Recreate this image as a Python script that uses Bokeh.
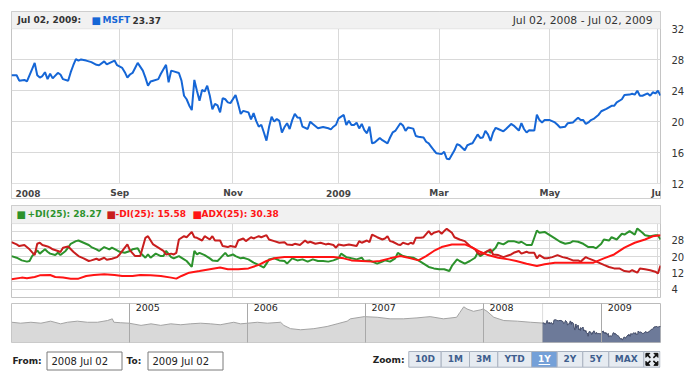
import pandas as pd
from bokeh.plotting import figure
from bokeh.layouts import column
from bokeh.models import Range1d, FixedTicker, BoxAnnotation, Label
from bokeh.core.properties import value
from bokeh.embed import file_html
from bokeh.resources import INLINE

# ---------------- data ----------------
HOLIDAYS = ["2008-07-04", "2008-09-01", "2008-11-27", "2008-12-25", "2009-01-01",
            "2009-01-19", "2009-02-16", "2009-04-10", "2009-05-25"]
cal = pd.bdate_range("2008-07-02", "2009-07-02")
cal = cal[~cal.isin(pd.to_datetime(HOLIDAYS))]
N = len(cal)

tick_months = ["2008-09", "2008-11", "2009-01", "2009-03", "2009-05", "2009-07"]
tick_labels = ["Sep", "Nov", "2009", "Mar", "May", "Jul"]
first_label = "2008"

# MSFT close, by trading-day index
price_day = [0, 2, 3, 5, 6, 8, 9, 10, 11, 12, 13, 14, 15, 16, 17, 18, 19, 20, 22, 23,
             24, 25, 26, 27, 29, 31, 33, 34, 36, 37, 40, 41, 43, 44, 45, 46, 47, 48, 49, 51,
             52, 53, 54, 55, 57, 58, 60, 61, 62, 63, 65, 66, 67, 68, 69, 70, 71, 72, 73, 74,
             75, 76, 77, 78, 79, 80, 81, 82, 83, 84, 85, 87, 88, 89, 90, 91, 92, 93, 94, 95,
             96, 97, 98, 99, 100, 101, 102, 103, 104, 105, 106, 107, 108, 109, 110, 111, 112, 113, 115, 116,
             117, 119, 121, 123, 124, 125, 126, 127, 129, 130, 131, 132, 133, 134, 135, 136, 137, 138, 139, 140,
             141, 142, 143, 144, 146, 147, 148, 149, 151, 152, 153, 154, 156, 157, 158, 160, 161, 162, 163, 164,
             165, 167, 168, 169, 170, 172, 173, 174, 176, 177, 178, 179, 181, 182, 183, 184, 185, 186, 187, 188,
             189, 191, 192, 194, 195, 197, 198, 199, 200, 201, 203, 204, 205, 206, 207, 209, 211, 212, 213, 215,
             216, 218, 219, 220, 221, 222, 223, 224, 225, 226, 228, 229, 231, 233, 234, 235, 237, 238, 240, 241,
             242, 243, 244, 245, 247, 248, 249, 250, 251, 252]
price = [26.0, 26.0, 25.3, 25.4, 25.2, 26.8, 27.6, 26.0, 25.7, 25.9, 26.4, 25.5, 26.2, 25.6, 25.95, 26.3, 26.1, 25.5, 25.3, 26.4,
         27.3, 28.1, 27.9, 28.05, 27.9, 27.7, 27.35, 27.3, 27.8, 27.4, 27.9, 27.3, 26.95, 26.4, 25.7, 26.1, 26.3, 26.95, 27.6, 26.6,
         25.7, 24.65, 25.2, 25.3, 25.5, 26.2, 27.35, 25.1, 26.6, 26.5, 26.3, 25.3, 23.35, 22.9, 22.1, 21.5, 25.4, 24.0, 22.7, 24.1,
         23.9, 24.65, 23.35, 21.6, 22.3, 22.1, 21.2, 23.05, 22.9, 22.5, 22.4, 23.45, 22.3, 21.0, 21.4, 21.3, 21.2, 20.3, 21.1, 20.1,
         19.35, 19.6, 18.6, 17.55, 19.3, 20.65, 20.0, 20.35, 20.1, 18.6, 19.3, 19.8, 19.05, 20.2, 21.0, 20.55, 20.5, 19.35, 19.05, 20.0,
         19.7, 19.15, 19.3, 19.15, 19.0, 19.35, 19.6, 20.43, 20.87, 19.57, 20.13, 19.57, 19.57, 19.87, 19.13, 19.7, 18.9, 18.5, 19.35, 17.2,
         17.3, 17.6, 17.9, 17.6, 17.2, 17.95, 18.6, 18.8, 19.8, 19.5, 18.8, 19.25, 19.1, 18.15, 18.05, 17.95, 17.4, 17.2, 16.75, 16.3,
         15.9, 15.8, 16.1, 15.2, 15.15, 16.3, 17.1, 16.95, 16.3, 16.95, 17.1, 17.2, 18.35, 17.9, 17.95, 18.8, 18.35, 17.5, 18.6, 19.2,
         19.05, 18.75, 19.05, 19.7, 19.5, 18.85, 19.8, 19.05, 18.6, 18.9, 18.85, 20.9, 20.2, 19.9, 20.2, 20.2, 19.9, 19.6, 19.25, 19.35,
         19.8, 19.9, 20.2, 20.5, 20.2, 20.2, 19.7, 19.9, 20.2, 20.35, 20.9, 21.35, 21.65, 22.05, 22.05, 22.5, 22.9, 23.45, 23.5, 23.6,
         23.5, 24.0, 23.35, 23.35, 23.65, 23.35, 23.8, 23.65, 24.0, 23.37]

# +DI(25)
pdi_day = [0, 2, 4, 6, 7, 8, 10, 11, 13, 14, 15, 17, 18, 19, 21, 22, 23, 25, 26, 28,
           30, 31, 33, 34, 36, 38, 39, 41, 42, 44, 46, 47, 49, 50, 52, 53, 54, 56, 58, 59,
           60, 62, 63, 65, 67, 68, 70, 71, 72, 73, 75, 77, 78, 80, 81, 83, 84, 86, 87, 89,
           90, 92, 94, 96, 98, 99, 100, 102, 104, 106, 107, 109, 111, 113, 115, 117, 119, 121, 123, 125,
           127, 128, 130, 132, 134, 136, 137, 139, 141, 142, 144, 145, 147, 149, 150, 152, 154, 156, 158, 160,
           162, 164, 166, 168, 170, 171, 173, 174, 176, 178, 180, 181, 182, 183, 185, 186, 188, 189, 191, 193,
           195, 197, 198, 200, 202, 204, 205, 207, 209, 211, 213, 215, 217, 218, 220, 222, 224, 226, 227, 229,
           230, 232, 233, 235, 237, 238, 240, 242, 243, 245, 246, 248, 250, 251, 252]
pdi = [20.2, 19.4, 18.1, 17.5, 17.8, 20.2, 23.0, 21.4, 23.5, 22.3, 21.4, 20.7, 21.8, 20.7, 22.7, 24.3, 26.2, 27.5, 27.8, 26.7,
       25.6, 24.6, 23.5, 22.7, 24.6, 23.5, 24.3, 23.0, 22.3, 21.8, 22.7, 23.5, 24.0, 21.8, 19.4, 21.0, 19.4, 21.4, 20.2, 20.2,
       22.7, 19.7, 19.1, 20.2, 18.6, 17.8, 14.9, 22.7, 21.0, 21.8, 20.7, 19.1, 18.1, 17.8, 19.1, 21.8, 20.2, 21.0, 20.2, 19.1,
       19.4, 18.6, 17.0, 15.9, 14.6, 16.5, 18.6, 19.1, 18.1, 17.8, 16.5, 19.1, 18.1, 18.6, 17.5, 18.6, 17.8, 17.8, 17.5, 18.1,
       19.1, 21.4, 19.7, 19.1, 18.6, 19.4, 17.8, 18.1, 17.0, 16.5, 17.5, 18.1, 17.5, 19.1, 21.8, 20.2, 19.7, 19.4, 18.1, 16.5,
       14.9, 14.2, 13.8, 13.8, 12.9, 15.4, 18.6, 17.8, 16.5, 17.8, 19.4, 21.8, 20.2, 21.0, 22.7, 21.8, 24.3, 26.7, 25.9, 27.5,
       27.5, 26.7, 27.2, 25.6, 25.6, 32.7, 31.6, 32.0, 30.4, 28.8, 27.2, 26.2, 26.7, 27.5, 27.2, 26.2, 24.6, 24.6, 24.0, 26.2,
       28.3, 27.8, 29.4, 28.3, 31.1, 30.7, 32.4, 30.7, 33.7, 31.6, 30.4, 29.9, 30.4, 30.4, 28.27]

# -DI(25)
mdi_day = [0, 2, 3, 5, 7, 9, 10, 11, 12, 14, 15, 16, 18, 19, 20, 22, 24, 26, 28, 30,
           31, 33, 34, 36, 37, 39, 41, 42, 44, 45, 46, 48, 50, 52, 53, 55, 57, 59, 60, 62,
           63, 64, 65, 67, 68, 70, 71, 72, 74, 75, 77, 78, 79, 81, 82, 84, 85, 87, 88, 90,
           91, 93, 94, 96, 97, 99, 100, 102, 104, 106, 107, 109, 110, 112, 114, 115, 116, 118, 120, 122,
           123, 125, 126, 127, 129, 131, 134, 135, 136, 138, 139, 140, 142, 144, 145, 146, 147, 148, 150, 151,
           152, 154, 155, 156, 157, 159, 160, 162, 163, 164, 166, 167, 168, 169, 171, 172, 174, 176, 178, 180,
           181, 182, 183, 186, 187, 189, 191, 194, 195, 197, 198, 200, 201, 203, 204, 205, 207, 208, 210, 212,
           214, 216, 218, 220, 221, 223, 224, 226, 228, 230, 232, 234, 236, 238, 240, 241, 243, 244, 246, 248,
           250, 251, 252]
mdi = [27.0, 25.9, 25.1, 25.6, 23.5, 20.7, 26.2, 26.7, 25.6, 24.9, 24.3, 23.5, 22.7, 22.2, 24.3, 24.9, 22.3, 20.2, 19.1, 17.8,
       18.1, 18.9, 18.3, 19.4, 18.4, 18.9, 19.7, 21.0, 24.3, 25.9, 23.0, 20.2, 20.2, 29.1, 29.9, 25.9, 24.3, 22.7, 21.0, 21.4,
       21.0, 21.8, 28.3, 29.9, 29.4, 32.0, 29.4, 29.1, 27.8, 29.9, 28.3, 29.9, 27.8, 27.8, 25.1, 24.6, 25.1, 24.6, 27.8, 28.8,
       27.5, 29.4, 28.8, 29.9, 29.4, 30.4, 28.3, 27.5, 26.7, 27.0, 25.9, 25.6, 26.2, 25.6, 27.8, 26.7, 27.2, 26.2, 26.7, 25.9,
       26.2, 25.6, 24.3, 25.9, 25.4, 25.9, 25.1, 27.5, 26.7, 27.8, 27.0, 30.7, 29.4, 28.3, 28.8, 29.9, 27.5, 27.2, 25.9, 25.6,
       26.7, 25.9, 26.7, 26.2, 29.1, 29.1, 29.4, 32.4, 30.7, 31.6, 32.4, 31.1, 32.4, 33.5, 31.6, 29.4, 28.3, 27.5, 25.1, 23.5,
       21.8, 21.0, 21.4, 23.5, 21.0, 20.7, 19.7, 21.0, 21.8, 22.7, 21.4, 22.3, 21.8, 21.8, 19.1, 20.7, 19.1, 19.1, 19.7, 20.7,
       19.7, 19.1, 18.1, 18.1, 17.5, 19.7, 19.1, 18.1, 17.0, 15.9, 14.9, 14.2, 14.2, 12.9, 12.6, 13.3, 12.1, 14.2, 13.8, 13.3,
       12.6, 11.7, 15.58]

# ADX(25)
adx_day = [0, 4, 6, 9, 11, 15, 17, 20, 23, 26, 29, 32, 36, 40, 43, 47, 50, 54, 58, 62,
           64, 66, 69, 73, 77, 81, 84, 88, 92, 96, 99, 102, 106, 110, 115, 120, 125, 129, 132, 136,
           140, 143, 147, 151, 155, 158, 161, 164, 167, 171, 173, 176, 179, 182, 185, 189, 193, 196, 200, 204,
           207, 211, 215, 218, 222, 226, 230, 234, 238, 242, 246, 249, 252]
adx = [8.9, 9.7, 9.4, 10.0, 10.8, 11.0, 10.0, 9.7, 9.2, 9.2, 10.5, 11.0, 11.3, 11.0, 10.5, 10.5, 11.0, 10.8, 10.5, 9.7,
       9.2, 10.5, 12.1, 12.9, 13.8, 14.6, 13.8, 13.8, 14.2, 15.9, 17.8, 19.1, 19.7, 19.7, 19.7, 19.7, 19.7, 19.1, 18.1, 17.8,
       17.5, 17.8, 19.1, 20.2, 19.1, 18.1, 20.2, 22.7, 24.6, 25.9, 25.9, 25.9, 24.3, 22.3, 20.7, 19.4, 18.6, 17.8, 16.5, 15.4,
       16.2, 17.0, 17.0, 17.0, 17.0, 17.0, 19.1, 21.0, 24.3, 26.7, 28.3, 29.9, 30.38]

# long history shown in the scroller (before the selected year)
hist_date = ["2004-01-02", "2004-01-29", "2004-03-01", "2004-04-01", "2004-05-01", "2004-06-01", "2004-06-22",
             "2004-07-23", "2004-08-23", "2004-09-23", "2004-10-24", "2004-11-08", "2004-11-13", "2004-12-04",
             "2004-12-30", "2005-02-05", "2005-03-08", "2005-04-07", "2005-05-08", "2005-06-08", "2005-07-08",
             "2005-08-08", "2005-09-08", "2005-10-08", "2005-11-19", "2005-12-10", "2006-01-01", "2006-01-31",
             "2006-03-03", "2006-04-13", "2006-04-23", "2006-05-14", "2006-06-14", "2006-07-25", "2006-09-04",
             "2006-10-05", "2006-11-05", "2006-11-15", "2006-12-28", "2007-02-06", "2007-03-18", "2007-04-28",
             "2007-06-09", "2007-07-20", "2007-08-30", "2007-10-10", "2007-10-20", "2007-11-01", "2007-11-11",
             "2007-12-01", "2007-12-22", "2007-12-31", "2008-01-12", "2008-02-02", "2008-03-04", "2008-04-15",
             "2008-05-26"]
hist_close = [26.5, 25.9, 26.5, 25.9, 27.2, 25.5, 26.5, 27.2, 26.5, 26.5, 27.6, 28.7, 26.5, 26.2,
              25.9, 24.5, 25.5, 24.5, 25.5, 24.9, 25.5, 25.9, 25.5, 24.9, 26.5, 25.5, 25.9, 26.5,
              25.9, 26.5, 24.5, 22.4, 21.7, 22.4, 23.8, 25.5, 27.2, 28.7, 30.1, 29.7, 28.7, 28.7,
              29.3, 30.1, 28.7, 29.7, 32.8, 36.4, 35.0, 33.5, 34.4, 35.0, 33.5, 29.7, 27.6, 27.2,
              26.5]
scroll_years = [2005, 2006, 2007, 2008, 2009]

zoom_labels = ["10D", "1M", "3M", "YTD", "1Y", "2Y", "5Y", "MAX"]
zoom_selected = "1Y"

# ---------------- style ----------------
W = 688
LEFT, RIGHT = 11, 28
BORDER = "#c4c4c4"
GRID = "#d9d9d9"
TXT = "#333333"
SANS = "DejaVu Sans"
BLUE = "#1566d6"
GREEN = "#2c922c"
DRED = "#c81e1e"
RED = "#ff1414"
HDR_FILL = "#f1f1f1"
BSIZE = "9px"

month_idx = [int((cal >= pd.Timestamp(m + "-01")).argmax()) for m in tick_months]
last_date = cal[-1].strftime("%b %d, %Y")
first_date = cal[0].strftime("%b %d, %Y")


def style(fig):
    fig.outline_line_color = BORDER
    fig.background_fill_color = "white"
    fig.border_fill_color = "white"


def hdr_label(fig, x, y, off, text, color, size=BSIZE, style_="bold", align="left"):
    fig.add_layout(Label(x=x, y=y, x_offset=off, text=text, text_color=color,
                         text_font=SANS, text_font_style=style_, text_font_size=size,
                         text_baseline="middle", text_align=align))


def y_axis(fig, ticks):
    ax = fig.yaxis[0]
    ax.ticker = FixedTicker(ticks=ticks)
    ax.axis_line_color = None
    ax.major_tick_line_color = None
    ax.minor_tick_line_color = None
    ax.major_label_standoff = 5
    ax.major_label_text_font = SANS
    ax.major_label_text_font_size = "10px"
    ax.major_label_text_color = TXT


# ---------------- main price panel ----------------
PY0, PY1 = 10.06, 34.25
FRAME_H = 187
p = figure(width=W, height=200, x_range=Range1d(0, N - 1), y_range=Range1d(PY0, PY1),
           x_axis_location=None, y_axis_location="right", output_backend="svg",
           toolbar_location=None, min_border_left=LEFT, min_border_right=RIGHT,
           min_border_top=11, min_border_bottom=2)
style(p)
p.grid.grid_line_color = GRID
p.xgrid.ticker = FixedTicker(ticks=month_idx)
y_axis(p, [12, 16, 20, 24, 28, 32])

# x-axis strip (labels sit in a bordered strip under the plot, as in the original)
p.add_layout(BoxAnnotation(top=12, fill_color="white", fill_alpha=1, line_color=BORDER, level="underlay"))
lab_y = 12 - 9.5 * (PY1 - PY0) / FRAME_H
p.text(x=month_idx, y=[lab_y] * len(month_idx), text=tick_labels, text_font=value(SANS),
       text_font_style="bold", text_font_size=BSIZE, text_color="#444444",
       text_align="center", text_baseline="middle")
p.text(x=[0], y=[lab_y], text=[first_label], x_offset=4, text_font=value(SANS),
       text_font_style="bold", text_font_size=BSIZE, text_color="#444444",
       text_align="left", text_baseline="middle")

p.line(price_day, price, line_color=BLUE, line_width=2)
p.add_layout(BoxAnnotation(bottom=32, fill_color=HDR_FILL, fill_alpha=1, line_color=BORDER))

hy = 33.15
hdr_label(p, 0, hy, 6, last_date + ":", TXT)
hdr_label(p, 0, hy, 80, "\u25a0", BLUE, size="10px", style_="normal")
hdr_label(p, 0, hy, 91, "MSFT", BLUE)
hdr_label(p, 0, hy, 121, f"{price[-1]:.2f}", TXT)
hdr_label(p, N - 1, hy, -8, f"{first_date} - {last_date}", TXT, size="10.8px",
          style_="normal", align="right")

# ---------------- DMI panel ----------------
q = figure(width=W, height=99, x_range=p.x_range, y_range=Range1d(0, 44.88),
           x_axis_location=None, y_axis_location="right", output_backend="svg",
           toolbar_location=None, min_border_left=LEFT, min_border_right=RIGHT,
           min_border_top=5, min_border_bottom=2)
style(q)
q.grid.grid_line_color = GRID
q.xgrid.ticker = FixedTicker(ticks=month_idx)
q.ygrid.ticker = FixedTicker(ticks=list(range(0, 37, 4)))
y_axis(q, [4, 12, 20, 28])

q.line(pdi_day, pdi, line_color=GREEN, line_width=2)
q.line(mdi_day, mdi, line_color=DRED, line_width=2)
q.line(adx_day, adx, line_color=RED, line_width=2)
q.add_layout(BoxAnnotation(bottom=36, fill_color=HDR_FILL, fill_alpha=1, line_color=BORDER))
hy2 = 40.5
hdr_label(q, 0, hy2, 5, "\u25a0", GREEN, size="10px", style_="normal")
hdr_label(q, 0, hy2, 16, f"+DI(25): {pdi[-1]:.2f}", GREEN)
hdr_label(q, 0, hy2, 95, "\u25a0", DRED, size="10px", style_="normal")
hdr_label(q, 0, hy2, 104, f"-DI(25): {mdi[-1]:.2f}", RED)
hdr_label(q, 0, hy2, 181, "\u25a0", RED, size="10px", style_="normal")
hdr_label(q, 0, hy2, 190, f"ADX(25): {adx[-1]:.2f}", RED)

# ---------------- scroller ----------------
SY0, SY1 = 13.55, 38.5
sel_dates = [cal[d] for d in price_day]
all_dates = list(pd.to_datetime(hist_date)) + sel_dates
all_vals = hist_close + price
s = figure(width=W, height=46, x_axis_type="datetime",
           x_range=Range1d(pd.Timestamp("2004-01-01"), cal[-1]), y_range=Range1d(SY0, SY1),
           x_axis_location=None, y_axis_location=None, output_backend="svg",
           toolbar_location=None, min_border_left=LEFT, min_border_right=RIGHT,
           min_border_top=4, min_border_bottom=3)
style(s)
s.ygrid.grid_line_color = None
year_ms = [pd.Timestamp(f"{y}-01-01").timestamp() * 1000 for y in scroll_years]
s.xgrid.ticker = FixedTicker(ticks=year_ms)
s.xgrid.grid_line_color = "#a9a9a9"
s.xgrid.level = "overlay"
s.varea(x=all_dates, y1=SY0, y2=all_vals, fill_color="#d9d9d9")
s.line(all_dates, all_vals, line_color="#a3a3a3", line_width=1)
s.varea(x=sel_dates, y1=SY0, y2=price, fill_color="#6d7a99")
s.line(sel_dates, price, line_color="#46506e", line_width=1)
s.add_layout(BoxAnnotation(left=cal[0].timestamp() * 1000, fill_alpha=0, line_color="#8c8c8c"))
for y, ms in zip(scroll_years, year_ms):
    s.add_layout(Label(x=ms, y=SY1, x_offset=6, text=str(y), text_color="#222222",
                       text_font=SANS, text_font_size="9.5px", text_baseline="top"))

# ---------------- controls (page-pixel coordinates) ----------------
H = 26
c = figure(width=W, height=H, x_range=Range1d(LEFT, W - RIGHT), y_range=Range1d(H, 0),
           x_axis_location=None, y_axis_location=None, output_backend="svg",
           toolbar_location=None, min_border_left=LEFT, min_border_right=RIGHT,
           min_border_top=0, min_border_bottom=0)
c.grid.grid_line_color = None
c.outline_line_color = None
c.background_fill_color = "white"
c.border_fill_color = "white"


def ctext(x, y, t, color="#222222", bold=True, align="left", size=BSIZE):
    c.text(x=[x], y=[y], text=[t], text_color=color, text_font=value(SANS),
           text_font_style="bold" if bold else "normal", text_font_size=size,
           text_baseline="middle", text_align=align)


cy = 15.5
ctext(12, cy, "From:")
c.quad(left=[46.5], right=[121.5], top=[6.5], bottom=[24.5], fill_color="white", line_color="#7a7a7a")
ctext(51, cy, cal[0].strftime("%Y %b %d"), bold=False, size="10px")
ctext(126, cy, "To:")
c.quad(left=[147.5], right=[222.5], top=[6.5], bottom=[24.5], fill_color="white", line_color="#7a7a7a")
ctext(152, cy, cal[-1].strftime("%Y %b %d"), bold=False, size="10px")
ctext(404, 14.5, "Zoom:", align="right")

zoom_widths = [32.4, 28.3, 28.3, 33.7, 25.7, 25.6, 26.0, 35.0]
bx = 408.3
by0, by1 = 6.0, 21.7
for lab, w in zip(zoom_labels, zoom_widths):
    sel = lab == zoom_selected
    c.quad(left=[bx], right=[bx + w], top=[by0], bottom=[by1],
           fill_color="#74a0d8" if sel else "#e6ebf1", line_color="#aab3c0")
    ctext(bx + w / 2, (by0 + by1) / 2, lab, color="white" if sel else "#3e5e8e", align="center")
    if sel:
        c.segment(x0=[bx + 7], y0=[19.0], x1=[bx + w - 7], y1=[19.0], line_color="white", line_width=1)
    bx += w
# full-screen button
fw = 16.2
c.quad(left=[bx], right=[bx + fw], top=[by0], bottom=[by1], fill_color="#e6ebf1", line_color="#aab3c0")
cx0, cy0 = bx + fw / 2, (by0 + by1) / 2
xs, ys = [], []
for dx in (-1, 1):
    for dy in (-1, 1):
        tx, ty = cx0 + dx * 6, cy0 + dy * 6
        xs.append([tx, tx - dx * 4, tx])
        ys.append([ty, ty, ty - dy * 4])
        c.segment(x0=[cx0 + dx * 1.5], y0=[cy0 + dy * 1.5], x1=[tx - dx * 1.5], y1=[ty - dy * 1.5],
                  line_color="#111111", line_width=1.5)
c.patches(xs, ys, fill_color="#111111", line_color="#111111")

layout = column(p, q, s, c, spacing=0)
open("out.html", "w").write(file_html(layout, INLINE))
